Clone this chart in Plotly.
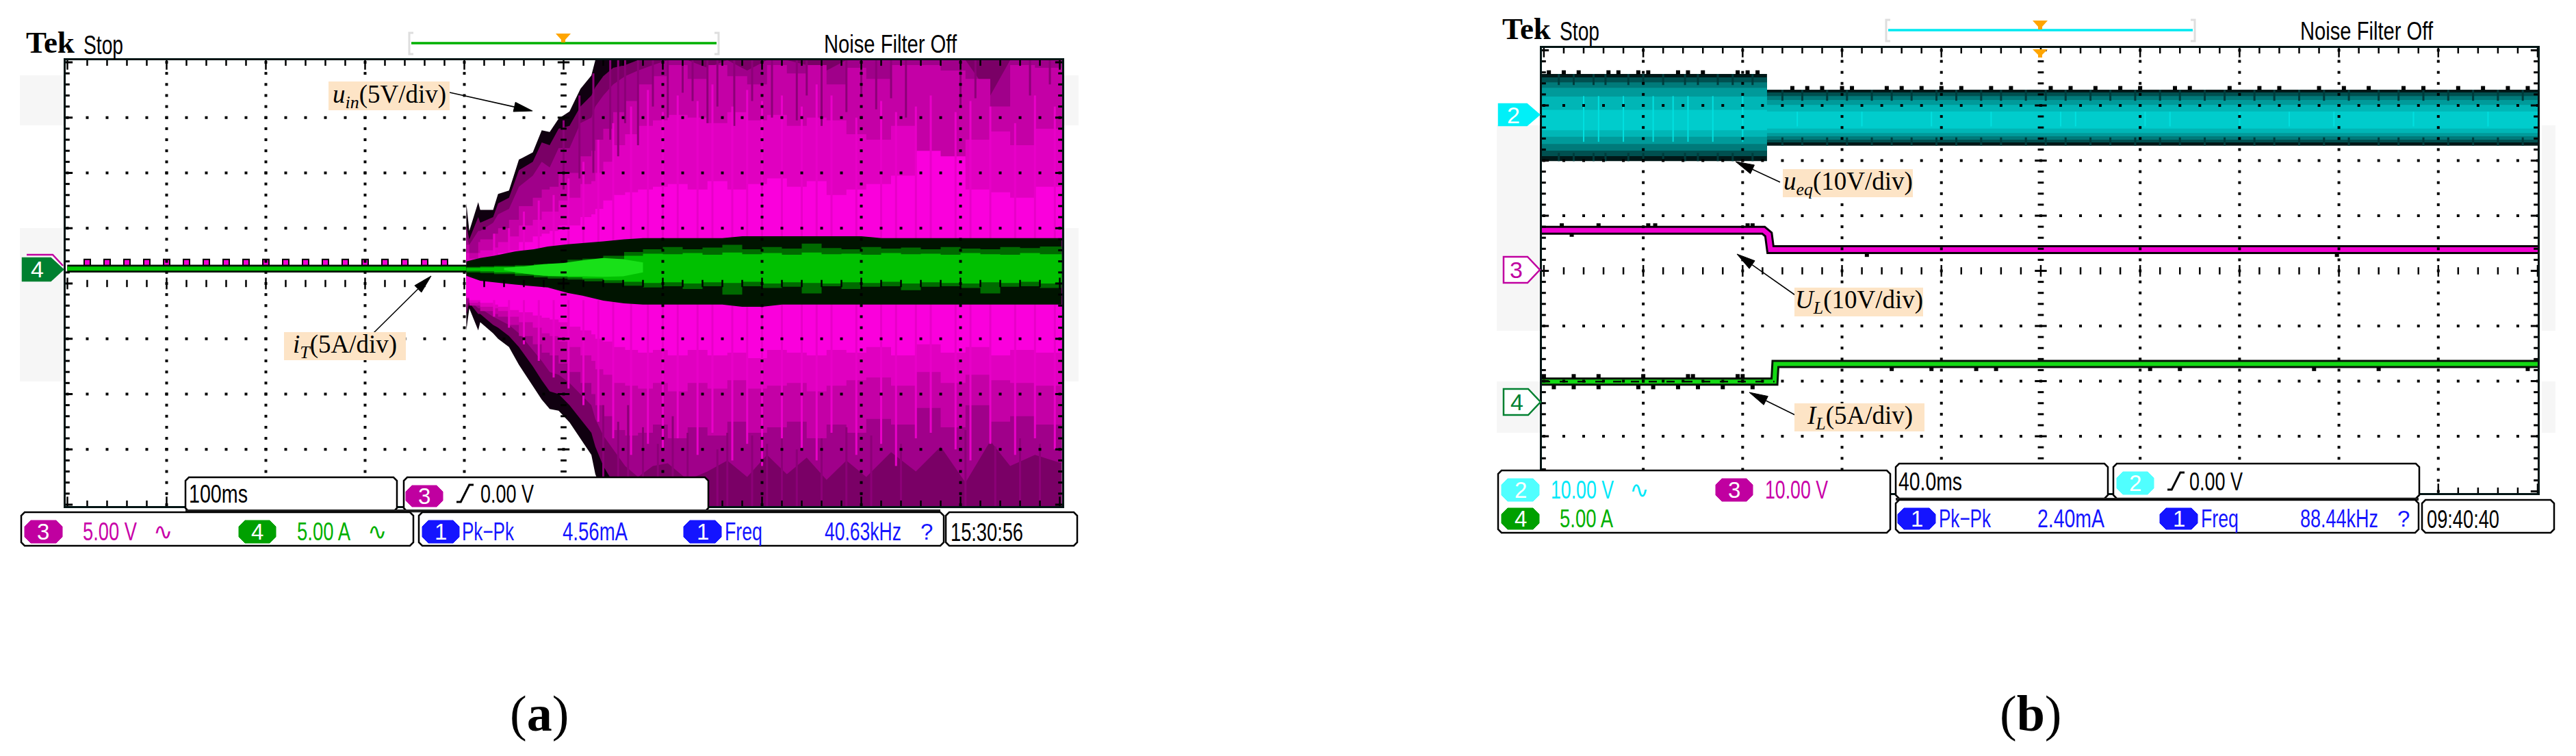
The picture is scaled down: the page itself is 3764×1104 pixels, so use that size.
import json
import math
import plotly.graph_objects as go

W, H = 3764, 1104
SANS = "Liberation Sans, Arial"
SERIF = "Liberation Serif, serif"

# ==================== Panel (a) data, x in div, y in div ====================
x_m = [4.02,4.05,4.14,4.16,4.29,4.34,4.45,4.55,4.69,4.78,4.86,4.95,5.06,5.17,5.28,5.32,5.40,5.50,5.62,5.75,
       5.90,6.05,6.25,6.45,6.65,6.85,7.05,7.25,7.45,7.65,7.85,8.05,8.3,8.55,8.8,9.05,9.3,9.5,9.75,10.02]

mag_up_black = [1.45,0.95,1.47,1.33,1.33,1.62,1.68,2.24,2.37,2.77,2.74,2.98,3.11,3.52,3.76,4.04,4.04,4.04,4.04,4.04,
                4.04,4.04,4.04,4.04,4.04,4.04,4.04,4.04,4.04,4.04,4.04,4.04,4.04,4.04,4.04,4.04,4.04,4.04,4.04,4.04]
mag_up_dark = [1.05,0.80,1.20,1.10,1.20,1.45,1.55,2.05,2.20,2.55,2.50,2.80,2.85,3.20,3.40,3.55,3.75,3.90,3.95,4.04,
               4.04,4.04,4.04,4.04,4.04,4.04,4.04,4.04,4.04,4.04,4.04,4.04,4.04,4.04,4.04,4.04,4.04,4.04,4.04,4.04]
mag_up_mid = [0.85,0.70,0.95,0.95,1.10,1.25,1.35,1.75,1.95,2.20,2.10,2.45,2.45,2.90,3.00,3.20,3.40,3.60,3.75,3.85,
              3.95,4.04,4.04,3.90,4.04,3.85,4.04,4.04,3.95,3.85,4.04,4.04,4.04,4.04,4.04,4.04,3.40,4.04,4.04,4.04]
mag_up_c4 = [0.70,0.55,0.75,0.80,0.90,1.00,1.15,1.40,1.55,1.70,1.75,2.00,2.00,2.30,2.40,2.60,2.80,3.10,3.30,3.60,
             3.75,3.95,3.70,3.95,3.75,3.60,3.95,3.80,3.95,3.60,3.90,3.70,3.95,3.95,3.85,3.70,3.20,3.95,3.90,3.95]
mag_up_e0 = [0.55,0.45,0.55,0.60,0.65,0.75,0.85,1.05,1.15,1.30,1.30,1.50,1.55,1.80,1.85,2.00,2.20,2.50,2.70,2.85,
             2.95,3.05,3.00,2.90,3.10,2.95,3.05,2.85,3.00,2.95,2.70,2.60,2.85,2.30,2.10,2.60,2.75,2.50,2.80,2.90]
mag_up_ff = [0.40,0.38,0.42,0.45,0.50,0.55,0.60,0.75,0.85,0.90,0.95,1.05,1.05,1.20,1.25,1.35,1.50,1.60,1.65,1.70,
             1.75,1.80,1.70,1.85,1.70,1.80,1.90,1.75,1.85,1.60,1.70,1.80,1.95,2.40,2.30,1.70,1.65,1.55,1.75,1.70]

mag_lo_black = [-0.85,-0.45,-0.85,-0.70,-0.90,-1.00,-1.15,-1.47,-1.85,-2.10,-2.27,-2.30,-2.51,-2.80,-3.10,-3.45,-3.80,-4.03,-4.03,-4.03,
                -4.03,-4.03,-4.03,-4.03,-4.03,-4.03,-4.03,-4.03,-4.03,-4.03,-4.03,-4.03,-4.03,-4.03,-4.03,-4.03,-4.03,-4.03,-4.03,-4.03]
mag_lo_dark = [-0.55,-0.35,-0.55,-0.55,-0.75,-0.80,-0.95,-1.15,-1.50,-1.75,-1.95,-2.00,-2.20,-2.45,-2.70,-2.95,-3.30,-3.60,-3.85,-4.03,
               -4.03,-4.03,-4.03,-4.03,-4.03,-4.03,-4.03,-4.03,-4.03,-4.03,-4.03,-4.03,-4.03,-4.03,-4.03,-4.03,-4.03,-4.03,-4.03,-4.03]
mag_lo_mid = [-0.45,-0.30,-0.45,-0.45,-0.60,-0.65,-0.75,-0.90,-1.20,-1.40,-1.60,-1.65,-1.80,-2.00,-2.20,-2.45,-2.75,-3.00,-3.30,-3.50,
              -3.30,-3.25,-3.55,-3.40,-3.20,-3.50,-3.10,-3.45,-3.15,-3.55,-3.20,-3.50,-3.05,-3.40,-2.95,-3.60,-2.85,-3.30,-3.10,-3.25]
mag_lo_c4 = [-0.40,-0.28,-0.40,-0.40,-0.50,-0.55,-0.60,-0.75,-0.95,-1.10,-1.25,-1.30,-1.45,-1.60,-1.80,-2.00,-2.20,-2.40,-2.65,-2.75,
             -2.70,-2.55,-2.80,-2.60,-2.75,-2.50,-2.70,-2.60,-2.50,-2.80,-2.55,-2.70,-2.45,-2.55,-2.25,-2.60,-2.20,-2.50,-2.40,-2.55]
mag_lo_e0 = [-0.35,-0.26,-0.35,-0.33,-0.42,-0.45,-0.50,-0.60,-0.70,-0.80,-0.90,-0.95,-1.05,-1.15,-1.30,-1.40,-1.55,-1.65,-1.80,-1.85,
             -1.90,-1.80,-1.95,-1.80,-1.90,-1.75,-1.90,-1.85,-1.80,-1.95,-1.85,-1.75,-1.70,-1.85,-1.60,-1.80,-1.65,-1.75,-1.80,-1.85]
mag_lo_ff = [-0.30,-0.25,-0.30,-0.30,-0.35,-0.38,-0.42,-0.48,-0.52,-0.58,-0.62,-0.65,-0.70,-0.78,-0.85,-0.92,-1.00,-1.05,-1.15,-1.20,
             -1.25,-1.20,-1.30,-1.20,-1.30,-1.25,-1.35,-1.20,-1.25,-1.30,-1.20,-1.25,-1.15,-1.30,-1.10,-1.25,-1.15,-1.30,-1.20,-1.25]

streak_up_x = [5.0,5.16,5.3,5.47,5.55,5.62,5.75,5.9,6.05,6.2,6.3,6.45,6.55,6.72,6.9,7.1,7.35,7.45,7.6,7.85,8.0,8.15,8.3,8.45,9.0,9.15,9.7,9.9]
streak_up_start = [2.95,3.4,3.8,4.04,4.04,4.04,4.04,4.04,4.04,4.04,4.04,4.04,4.04,4.04,4.04,4.04,4.04,4.04,4.04,4.04,4.04,4.04,4.04,4.04,4.04,4.04,4.04,4.04]
streak_up_end = [1.7,1.9,2.0,2.6,2.3,2.9,2.5,3.2,3.0,3.45,3.3,2.9,3.2,2.85,3.3,3.0,2.95,3.4,2.85,3.1,3.4,3.15,3.35,3.0,3.2,3.35,3.4,3.6]
streak_lo_x = [5.4,5.55,5.65,5.8,5.95,6.1,6.25,6.55,6.65,6.9,7.05,7.2,7.35,7.6,7.85,8.1,8.4,9.05,9.35,9.6,9.8]
streak_lo_end = [-2.2,-2.5,-2.2,-2.6,-2.9,-2.4,-2.7,-3.0,-2.7,-2.75,-2.9,-2.7,-3.0,-2.8,-2.6,-2.75,-2.9,-2.65,-2.95,-2.8,-2.9]
bright_x = [4.3,4.45,4.6,4.75,4.9,5.05,5.2,5.35,5.5,5.68,5.85,6.0,6.15,6.35,6.5,6.7,6.85,7.0,7.2,7.4,7.55,7.7,7.95,8.2,8.35,8.55,8.7,8.95,9.1,9.3,9.55,9.75,9.95]
bright_up_end = [.9,1.0,1.3,1.5,1.6,1.9,2.2,2.6,2.9,3.2,3.5,3.1,3.4,3.3,3.6,3.2,3.5,3.3,3.4,3.2,3.6,3.4,3.0,3.3,3.1,3.2,3.4,3.1,3.3,3.2,2.9,3.4,3.2]
bright_lo_end = [-.6,-.8,-1.1,-1.4,-1.7,-1.9,-2.2,-2.5,-2.8,-3.1,-2.9,-3.0,-2.8,-3.1,-2.7,-3.2,-2.9,-3.3,-2.8,-3.0,-3.2,-2.7,-3.1,-2.9,-3.3,-2.8,-2.7,-3.0,-3.2,-2.9,-3.1,-2.8,-3.0]

x_g = [4.02,4.16,4.3,4.51,4.7,4.84,5.04,5.19,5.4,5.61,5.8,6.0,6.2,6.4,6.6,6.8,7.0,7.2,7.4,7.6,7.8,8.0,8.2,8.4,8.6,8.8,9.0,9.2,9.4,9.6,9.8,10.02]
blk_up = [.40,.46,.50,.58,.62,.67,.71,.73,.76,.80,.82,.82,.82,.82,.82,.855,.855,.855,.855,.855,.855,.855,.82,.82,.82,.82,.82,.82,.82,.82,.82,.82]
blk_lo = [.14,.05,.02,-.02,-.05,-.07,-.17,-.22,-.31,-.36,-.38,-.38,-.38,-.38,-.38,-.42,-.42,-.38,-.38,-.38,-.38,-.38,-.38,-.38,-.38,-.38,-.38,-.38,-.38,-.38,-.38,-.38]
grn_dk_up = [.30,.31,.32,.33,.35,.36,.43,.45,.50,.57,.62,.66,.62,.65,.70,.62,.66,.63,.72,.64,.62,.66,.63,.65,.62,.66,.63,.62,.66,.64,.67,.62]
grn_dk_lo = [.24,.20,.19,.17,.14,.11,.09,.07,.04,.01,-.04,-.07,-.05,-.10,-.05,-.20,-.05,-.08,-.06,-.18,-.05,-.10,-.06,-.05,-.12,-.06,-.05,-.08,-.18,-.06,-.05,-.08]
grn_up = [.28,.29,.30,.31,.32,.33,.37,.40,.44,.50,.54,.53,.55,.52,.56,.53,.55,.52,.56,.53,.54,.52,.55,.53,.54,.52,.55,.53,.52,.55,.53,.54]
grn_lo = [.26,.23,.22,.20,.18,.15,.13,.11,.09,.06,.03,.01,.02,.00,.02,.01,.03,.00,.02,.01,.00,.02,.01,.03,.00,.02,.01,.00,.02,.01,.03,.00]
x_h = [4.4,4.6,4.8,5.0,5.2,5.4,5.6,5.8]
hi_up = [.28,.31,.35,.37,.42,.46,.44,.38]
hi_lo = [.24,.18,.14,.13,.13,.12,.13,.20]

x_flat = [0, 4.02]
y_flat = [0.27, 0.27]
pink_dot_x = [0.2,0.4,0.6,0.8,1.0,1.2,1.4,1.6,1.8,2.0,2.2,2.4,2.6,2.8,3.0,3.2,3.4,3.6,3.8]

# ==================== Panel (b) data ====================
x_c = [-0.02, 2.245, 2.245, 10.0]
cy_black_up = [3.57, 3.57, 3.285, 3.285]
cy_d1_up = [3.51, 3.51, 3.235, 3.235]
cy_d2_up = [3.42, 3.42, 3.17, 3.17]
cy_d3_up = [3.32, 3.32, 3.10, 3.10]
cy_d4_up = [3.16, 3.16, 3.01, 3.01]
cy_d5_up = [2.92, 2.92, 2.89, 2.89]
cy_d5_lo = [2.55, 2.55, 2.58, 2.58]
cy_d4_lo = [2.43, 2.43, 2.50, 2.50]
cy_d3_lo = [2.30, 2.30, 2.44, 2.44]
cy_d2_lo = [2.18, 2.18, 2.38, 2.38]
cy_d1_lo = [2.08, 2.08, 2.33, 2.33]
cy_black_lo = [1.99, 1.99, 2.27, 2.27]
cy_bump_x1 = [0.05,0.2,0.35,0.65,0.75,0.95,1.05,1.35,1.45,1.6,1.95,2.05,2.15]
cy_bump_x2 = [2.5,2.65,2.8,3.0,3.1,3.45,3.6,3.8,4.0,4.2,4.5,4.7,5.1,5.3,5.55,5.8,6.0,6.35,6.5,6.9,7.2,7.4,7.8,8.05,8.3,8.65,8.85,9.2,9.45,9.7,9.9]
cy_streak_x = [0.15,0.3,0.5,0.62,0.85,1.0,1.2,1.42,1.55,1.75,1.9,2.1,2.4,2.6,2.85,3.05,3.3,3.5,3.7,3.95,4.15,4.4,4.6,4.85,5.05,5.25,5.5,5.7,5.95,6.2,6.4,6.65,6.85,7.15,7.35,7.6,7.85,8.1,8.4,8.6,8.85,9.1,9.35,9.6,9.85]
cy_bright_x = [0.4,0.55,0.8,1.1,1.3,1.45,1.7,2.0,2.55,3.2,3.9,4.5,5.2,5.35,6.05,6.3,7.0,7.5,7.95,8.75,9.5]

pink_x = [-0.02, 2.21, 2.26, 2.28, 10.0]
pink_y = [0.735, 0.735, 0.66, 0.385, 0.385]
pink_bump_x = [0.18,0.55,1.05,1.12,2.05,2.1]
pink_low_left_x = [0.28]
pink_low_right_x = [3.25,7.98]
grn_b_x = [-0.02, 2.32, 2.33, 2.36, 10.0]
grn_b_y = [-2.01, -2.01, -1.69, -1.69, -1.69]
grn_bump_up_x = [0.0,0.3,0.55,1.0,1.45,1.5,1.95,2.0]
grn_bump_lo_left_x = [0.1,0.3,0.55,0.95,1.1,1.35,1.55,1.8,2.1]
grn_bump_lo_right_x = [3.5,3.9,4.35,4.55,6.1,6.4,7.75,8.4,9.9]

# target on-screen widths of the scope's narrow bitmap lettering
text_widths = {"100ms": 86, "0.00 V": 78, "5.00 V": 79, "5.00 A": 78, "Pk−Pk": 76, "4.56mA": 95, "Freq": 55,
               "40.63kHz": 112, "15:30:56": 106, "Noise Filter Off": 194, "Stop": 58, "10.00 V": 92,
               "2.40mA": 98, "88.44kHz": 114, "09:40:40": 106, "40.0ms": 93}


# ==================== Helpers ====================
def px(x):
    return x / W


def py(y):
    return 1 - y / H


def band(x, up, lo, color, xa, ya, shape="linear"):
    fig.add_trace(go.Scatter(x=list(x) + list(x)[::-1], y=list(up) + list(lo)[::-1], mode="lines",
                             fill="toself", fillcolor=color, line=dict(width=0, shape=shape), hoverinfo="skip",
                             xaxis=xa, yaxis=ya))


def segs(xs0, ys0, xs1, ys1, color, width, xa, ya, dash="solid"):
    x, y = [], []
    for a, b, c, d in zip(xs0, ys0, xs1, ys1):
        x += [a, c, None]
        y += [b, d, None]
    fig.add_trace(go.Scatter(x=x, y=y, mode="lines", line=dict(color=color, width=width, dash=dash),
                             hoverinfo="skip", xaxis=xa, yaxis=ya))


def dots(x, y, size, xa, ya, color="black", symbol="square"):
    fig.add_trace(go.Scatter(x=x, y=y, mode="markers", hoverinfo="skip", xaxis=xa, yaxis=ya,
                             marker=dict(symbol=symbol, size=size, color=color, line=dict(width=0))))


def graticule(xa, ya, x0, x1, y0, y1):
    minor_x = [i * 0.2 for i in range(51)]
    minor_y = [-4 + i * 0.2 for i in range(41)]
    gx, gy = [], []
    for j in [-3, -2, -1, 1, 2, 3]:
        for v in minor_x:
            gx.append(v)
            gy.append(j)
    for k in range(1, 10):
        if k == 5:
            continue
        for v in minor_y:
            gx.append(k)
            gy.append(v)
    dots(gx, gy, 4, xa, ya)
    # centre cross and frame ticks
    is_maj = lambda v: abs(v - round(v)) < 0.01
    for sx in minor_x:
        h = 0.105 if is_maj(sx) else 0.065
        segs([sx], [-h], [sx], [h], "black", 2.5, xa, ya)
        h = 0.17 if is_maj(sx) else 0.1
        segs([sx], [y1], [sx], [y1 - h], "black", 2.5, xa, ya)
        segs([sx], [y0], [sx], [y0 + h], "black", 2.5, xa, ya)
    for sy in minor_y:
        h = 0.07 if is_maj(sy) else 0.04
        segs([x0], [sy], [x0 + h], [sy], "black", 3, xa, ya)
        segs([x1], [sy], [x1 - h], [sy], "black", 3, xa, ya)
        h = 0.06 if is_maj(sy) else 0.03
        segs([5 - h], [sy], [5 + h], [sy], "black", 3, xa, ya)


def label(x, y, text, size, color="black", font=SANS, anchor="left"):
    annotations.append(dict(x=px(x), y=py(y), xref="paper", yref="paper", text=text, showarrow=False,
                            xanchor=anchor, yanchor="middle", align=anchor,
                            font=dict(size=size, color=color, family=font)))


def box(x0, y0, x1, y1, fill="white", line="black", lw=2.5, c=5):
    shapes.append(dict(type="path", xref="paper", yref="paper", layer="above", fillcolor=fill,
                       line=dict(color=line, width=lw),
                       path=f"M {px(x0+c)} {py(y0)} L {px(x1-c)} {py(y0)} L {px(x1)} {py(y0+c)} L {px(x1)} {py(y1-c)} "
                            f"L {px(x1-c)} {py(y1)} L {px(x0+c)} {py(y1)} L {px(x0)} {py(y1-c)} L {px(x0)} {py(y0+c)} Z"))


def rect(x0, y0, x1, y1, fill):
    shapes.append(dict(type="rect", xref="paper", yref="paper", layer="below", fillcolor=fill, line=dict(width=0),
                       x0=px(x0), x1=px(x1), y0=py(y1), y1=py(y0)))


def poly(points, fill=None, line=None, lw=2.5):
    path = "M " + " L ".join(f"{px(a)} {py(b)}" for a, b in points)
    if fill:
        path += " Z"
    shapes.append(dict(type="path", xref="paper", yref="paper", layer="above", path=path,
                       fillcolor=fill if fill else "rgba(0,0,0,0)",
                       line=dict(color=line if line else "rgba(0,0,0,0)", width=lw)))


def chip(x0, y0, x1, y1, fill, text):
    box(x0, y0, x1, y1, fill=fill, line=fill, lw=1, c=9)
    label((x0 + x1) / 2, (y0 + y1) / 2, text, 33, "white", anchor="center")


def marker(x0, y0, x1, y1, color, text, filled):
    tip = (y0 + y1) / 2
    pts = [(x0, y0), (x1 - 18, y0), (x1, tip), (x1 - 18, y1), (x0, y1)]
    poly(pts, fill=color if filled else "white", line=color, lw=2.5)
    label((x0 + x1 - 16) / 2, tip, text, 34, "white" if filled else color, anchor="center")


def arrow(sx, sy, tx, ty):
    d = math.hypot(tx - sx, ty - sy)
    ux, uy = (tx - sx) / d, (ty - sy) / d
    bx, by = tx - 27 * ux, ty - 27 * uy
    poly([(sx, sy), (bx, by)], line="black", lw=1.6)
    poly([(tx, ty), (bx - 7 * uy, by + 7 * ux), (bx + 7 * uy, by - 7 * ux)], fill="black", line="black", lw=1)


def tag(x0, y0, x1, y1, text, tipx, tipy, sx, sy):
    arrow(sx, sy, tipx, tipy)
    shapes.append(dict(type="rect", xref="paper", yref="paper", layer="above", fillcolor="#fde4c6", line=dict(width=0),
                       x0=px(x0), x1=px(x1), y0=py(y1), y1=py(y0)))
    label((x0 + x1) / 2, (y0 + y1) / 2, text, 37, "black", SERIF, "center")


def trigger_glyph(x0, y0, x1, y1):
    d = (x1 - x0) / 4
    poly([(x0, y1), (x0 + d, y1), (x1 - d, y0), (x1, y0)], line="black", lw=3)


def header(tek_x, stop_x, ty, noise_x, bar_x0, bar_x1, bar_y, tri_x, color):
    label(tek_x, ty, "<b>Tek</b>", 45, "black", SERIF)
    label(stop_x, ty + 4, "Stop", 38)
    label(noise_x, ty + 3, "Noise Filter Off", 36)
    poly([(bar_x0 + 6, bar_y - 15), (bar_x0, bar_y - 15), (bar_x0, bar_y + 16), (bar_x0 + 6, bar_y + 16)], line="#dedede", lw=3)
    poly([(bar_x1 - 6, bar_y - 15), (bar_x1, bar_y - 15), (bar_x1, bar_y + 16), (bar_x1 - 6, bar_y + 16)], line="#dedede", lw=3)
    poly([(bar_x0 + 3, bar_y), (bar_x1 - 3, bar_y)], line=color, lw=3.5)
    poly([(tri_x - 11, bar_y - 14), (tri_x + 11, bar_y - 14), (tri_x + 3, bar_y - 5), (tri_x + 3, bar_y - 1), (tri_x - 3, bar_y - 1), (tri_x - 3, bar_y - 5)], fill="#ffa500", lw=0)


# ==================== Figure ====================
fig = go.Figure()
shapes, annotations = [], []

# ---------- Panel (a) traces ----------
A = ("x", "y")
band(x_m, mag_up_black, mag_lo_black, "#100010", *A)
band(x_m, mag_up_dark, mag_lo_dark, "#7a0066", *A)
band(x_m, mag_up_mid, mag_lo_mid, "#a0008a", *A)
band(x_m, mag_up_c4, mag_lo_c4, "#c400a6", *A, shape="hv")
band(x_m, mag_up_e0, mag_lo_e0, "#e000c0", *A, shape="hv")
band(x_m, mag_up_ff, mag_lo_ff, "#fa00dc", *A, shape="hv")
segs(streak_up_x, streak_up_start, streak_up_x, streak_up_end, "#8c0078", 3, *A)
segs(streak_lo_x, [-4.03] * len(streak_lo_x), streak_lo_x, streak_lo_end, "#8c0078", 3, *A)
segs(bright_x, [0.5] * len(bright_x), bright_x, bright_up_end, "#e800c8", 3, *A)
segs(bright_x, [-0.3] * len(bright_x), bright_x, bright_lo_end, "#e800c8", 3, *A)
segs(x_flat[:1], y_flat[:1], x_flat[1:], y_flat[1:], "#041004", 11, *A)
dots(pink_dot_x, [0.38] * len(pink_dot_x), 11, *A)
dots(pink_dot_x, [0.38] * len(pink_dot_x), 7, *A, color="#f000d0")
segs(x_flat[:1], y_flat[:1], x_flat[1:], y_flat[1:], "#041004", 11, *A)
segs(x_flat[:1], y_flat[:1], x_flat[1:], y_flat[1:], "#00c800", 6, *A)
band(x_g, blk_up, blk_lo, "#001400", *A)
band(x_g, grn_dk_up, grn_dk_lo, "#006a00", *A, shape="hv")
band(x_g, grn_up, grn_lo, "#00c000", *A, shape="hv")
band(x_h, hi_up, hi_lo, "#18e018", *A)

# ---------- Panel (b) traces ----------
B = ("x2", "y2")
band(x_c, cy_black_up, cy_black_lo, "#001818", *B)
band(x_c, cy_d1_up, cy_d1_lo, "#005050", *B)
band(x_c, cy_d2_up, cy_d2_lo, "#007a7a", *B)
band(x_c, cy_d3_up, cy_d3_lo, "#009a9a", *B)
band(x_c, cy_d4_up, cy_d4_lo, "#00b6b6", *B)
band(x_c, cy_d5_up, cy_d5_lo, "#00cccc", *B)
top_at = lambda v: 3.57 if v < 2.245 else 3.285
low_at = lambda v: 1.99 if v < 2.245 else 2.27
segs(cy_streak_x, [top_at(v) for v in cy_streak_x], cy_streak_x, [top_at(v) - 0.2 for v in cy_streak_x], "#003c3c", 3, *B)
segs(cy_streak_x, [low_at(v) for v in cy_streak_x], cy_streak_x, [low_at(v) + 0.15 for v in cy_streak_x], "#003c3c", 3, *B)
segs(cy_bright_x, [top_at(v) - 0.4 for v in cy_bright_x], cy_bright_x, [low_at(v) + 0.35 for v in cy_bright_x], "#00e0e0", 2, *B)
dots(cy_bump_x1, [3.6] * len(cy_bump_x1), 6, *B)
dots(cy_bump_x2, [3.315] * len(cy_bump_x2), 6, *B)
fig.add_trace(go.Scatter(x=pink_x, y=pink_y, mode="lines", line=dict(color="#080008", width=13), hoverinfo="skip", xaxis="x2", yaxis="y2"))
dots(pink_bump_x, [0.825] * len(pink_bump_x), 6, *B)
dots(pink_low_left_x, [0.655], 6, *B)
dots(pink_low_right_x, [0.29, 0.29], 6, *B)
fig.add_trace(go.Scatter(x=pink_x, y=pink_y, mode="lines", line=dict(color="#f000d0", width=7), hoverinfo="skip", xaxis="x2", yaxis="y2"))
fig.add_trace(go.Scatter(x=grn_b_x, y=grn_b_y, mode="lines", line=dict(color="#081008", width=12), hoverinfo="skip", xaxis="x2", yaxis="y2"))
dots(grn_bump_up_x, [-1.91] * len(grn_bump_up_x), 6, *B)
dots(grn_bump_lo_left_x, [-2.11] * len(grn_bump_lo_left_x), 6, *B)
dots(grn_bump_lo_right_x, [-1.78] * len(grn_bump_lo_right_x), 6, *B)
fig.add_trace(go.Scatter(x=grn_b_x, y=grn_b_y, mode="lines", line=dict(color="#14d814", width=6), hoverinfo="skip", xaxis="x2", yaxis="y2"))
segs([-0.02], [-2.01], [2.32], [-2.01], "#041004", 2.5, *B, dash="12px,14px")

# ---------- Graticules ----------
graticule("x", "y", -0.017, 10.024, -4.025, 4.037)
graticule("x2", "y2", -0.02, 10.0, -4.03, 4.043)

# ---------- Furniture, panel (a) ----------
for a in [(29, 110, 96, 183), (29, 333, 96, 557), (1554, 110, 1576, 183), (1554, 333, 1576, 557)]:
    rect(*a, "#f6f6f6")
header(36, 120, 62, 1202, 598, 1050, 63, 823, "#00b000")
marker(33, 377, 92, 410, "#008030", "4", True)
poly([(39, 372), (77, 372), (92, 388)], line="#c000a0", lw=2.5)
box(271, 697, 580, 747)
box(590, 697, 1035, 747)
poly([(271, 746), (1374, 746)], line="#202020", lw=4)
box(31, 748, 604, 797)
box(612, 748, 1379, 797)
box(1382, 748, 1574, 797)
label(274, 721, "100ms", 37)
chip(593, 709, 647, 740, "#c000a0", "3")
trigger_glyph(667, 708, 692, 733)
label(700, 721, "0.00 V", 37)
chip(36, 760, 91, 793, "#c000a0", "3")
label(119, 776, "5.00 V", 37, "#c800a8")
label(222, 776, "∿", 34, "#c800a8", "DejaVu Sans")
chip(349, 760, 403, 793, "#00a000", "4")
label(432, 776, "5.00 A", 37, "#00b000")
label(535, 776, "∿", 34, "#00b000", "DejaVu Sans")
chip(617, 760, 671, 793, "#1414ff", "1")
label(673, 776, "Pk−Pk", 37, "#1414ff")
label(820, 776, "4.56mA", 37, "#1414ff")
chip(999, 760, 1054, 793, "#1414ff", "1")
label(1057, 776, "Freq", 37, "#1414ff")
label(1203, 776, "40.63kHz", 37, "#1414ff")
label(1343, 776, "?", 33, "#1414ff")
label(1387, 777, "15:30:56", 37)
tag(480, 119, 657, 161, "<i>u</i><sub><i>in</i></sub>(5V/div)", 778, 162, 657, 135)
tag(415, 485, 593, 526, "<i>i</i><sub><i>T</i></sub>(5A/div)", 630, 403, 545, 487)

# ---------- Furniture, panel (b) ----------
for a in [(2187, 183, 2253, 483), (2187, 557, 2253, 632), (3714, 183, 3734, 483), (3714, 557, 3734, 632)]:
    rect(*a, "#f6f6f6")
header(2193, 2277, 42, 3359, 2756, 3207, 44, 2981, "#00e8f0")
poly([(2970, 72), (2992, 72), (2984, 80), (2984, 84), (2978, 84), (2978, 80)], fill="#ffa500", lw=0)
marker(2190, 152, 2249, 183, "#00f0f8", "2", True)
marker(2197, 375, 2250, 413, "#c000a0", "3", False)
marker(2197, 568, 2251, 606, "#008030", "4", False)
box(2770, 677, 3080, 728)
box(3088, 677, 3535, 728)
poly([(2770, 729), (3534, 729)], line="#202020", lw=4)
box(2189, 687, 2762, 778)
box(2770, 730, 3534, 778)
box(3539, 730, 3732, 778)
label(2772, 704, "40.0ms", 37)
chip(3093, 689, 3147, 722, "#50ffff", "2")
trigger_glyph(3167, 690, 3192, 715)
label(3197, 703, "0.00 V", 37)
chip(2194, 699, 2249, 732, "#50ffff", "2")
label(2264, 715, "10.00 V", 37, "#00e8f8")
label(2379, 715, "∿", 34, "#00e8f8", "DejaVu Sans")
chip(2507, 699, 2561, 732, "#c000a0", "3")
label(2577, 715, "10.00 V", 37, "#c800a8")
chip(2194, 742, 2249, 773, "#00a000", "4")
label(2277, 757, "5.00 A", 37, "#00b000")
chip(2773, 742, 2828, 773, "#1414ff", "1")
label(2831, 757, "Pk−Pk", 37, "#1414ff")
label(2975, 757, "2.40mA", 37, "#1414ff")
chip(3156, 742, 3211, 773, "#1414ff", "1")
label(3214, 757, "Freq", 37, "#1414ff")
label(3359, 757, "88.44kHz", 37, "#1414ff")
label(3501, 757, "?", 33, "#1414ff")
label(3544, 758, "09:40:40", 37)
tag(2605, 247, 2795, 288, "<i>u</i><sub><i>eq</i></sub>(10V/div)", 2536, 236, 2601, 266)
tag(2622, 420, 2810, 462, "<i>U</i><sub><i>L</i></sub>(10V/div)", 2538, 371, 2626, 433)
tag(2622, 589, 2812, 630, "<i>I</i><sub><i>L</i></sub>(5A/div)", 2556, 573, 2629, 609)

label(788, 1042, "(<b>a</b>)", 74, "black", SERIF, "center")
label(2967, 1042, "(<b>b</b>)", 74, "black", SERIF, "center")

# ==================== Layout Settings ====================
axis = dict(showgrid=False, zeroline=False, showticklabels=False, ticks="", showline=True, mirror=True,
            linecolor="#001414", linewidth=3)
fig.update_layout(
    width=W, height=H, autosize=False, showlegend=False, paper_bgcolor="white", plot_bgcolor="white",
    margin=dict(l=0, r=0, t=0, b=0),
    xaxis=dict(axis, domain=[px(96), px(1552)], range=[-0.017, 10.024], anchor="y"),
    yaxis=dict(axis, domain=[py(739), py(88)], range=[-4.025, 4.037], anchor="x"),
    xaxis2=dict(axis, domain=[px(2253), px(3708)], range=[-0.02, 10.0], anchor="y2"),
    yaxis2=dict(axis, domain=[py(720), py(70)], range=[-4.03, 4.043], anchor="x2"),
    shapes=shapes, annotations=annotations,
)

# squeeze the sans text to the scope font's narrow widths
post = ("document.body.style.margin='0';var w=" + json.dumps(text_widths, ensure_ascii=False) + ";"
        "document.querySelectorAll('.annotation-text').forEach(function(t){var k=w[t.textContent];"
        "if(k){t.setAttribute('textLength',k);t.setAttribute('lengthAdjust','spacingAndGlyphs');}});")

# ==================== Save ====================
fig.write_html("out.html", post_script=post, config={"displayModeBar": False})
